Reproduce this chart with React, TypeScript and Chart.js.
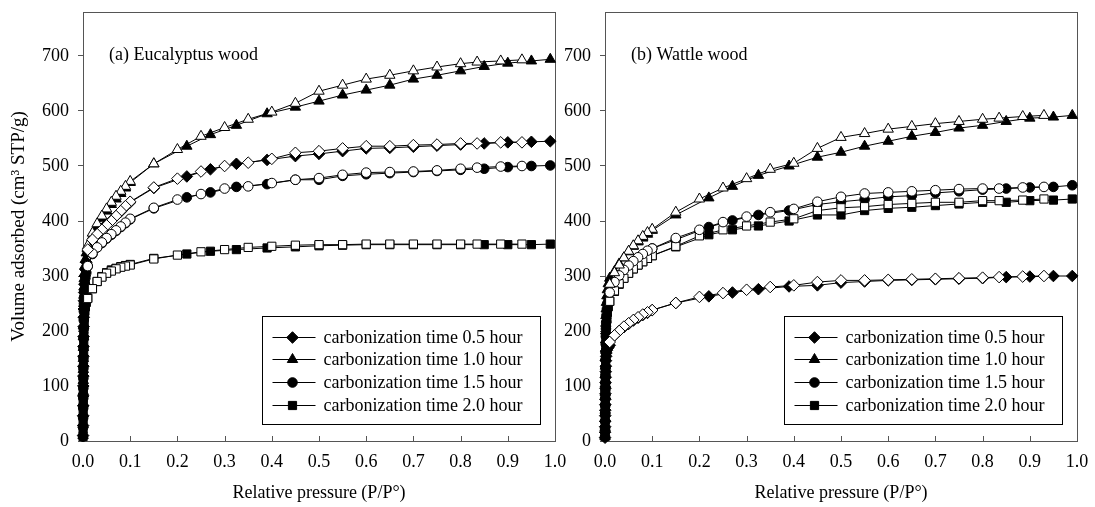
import React, { useEffect, useRef } from 'react';
import { Chart, registerables } from 'chart.js';

Chart.register(...registerables);

const FONT = "'Liberation Serif', 'Times New Roman', serif";

// Relative pressure grids (P/P°)
const bandP = [0.0001, 0.0002, 0.0003, 0.0004, 0.0005, 0.0006, 0.0007, 0.0008, 0.0009, 0.001, 0.0012, 0.0014, 0.0016, 0.0018, 0.002, 0.0025, 0.003, 0.004, 0.005, 0.007, 0.01];
const clusterP = [0.02, 0.03, 0.04, 0.05, 0.06, 0.07, 0.08, 0.09, 0.1];
const upperP = [0.15, 0.22, 0.27, 0.325, 0.39, 0.45, 0.5, 0.55, 0.6, 0.65, 0.7, 0.75, 0.8, 0.85, 0.9, 0.95, 0.99];
const adsP = [...bandP, ...clusterP, ...upperP];
const desP = [0.93, 0.885, 0.835, 0.8, 0.75, 0.7, 0.65, 0.6, 0.55, 0.5, 0.45, 0.4, 0.35, 0.3, 0.25, 0.2, 0.15, 0.1, 0.09, 0.08, 0.07, 0.06, 0.05, 0.04, 0.03, 0.02, 0.01];

const seriesLabels = [
  'carbonization time 0.5 hour',
  'carbonization time 1.0 hour',
  'carbonization time 1.5 hour',
  'carbonization time 2.0 hour',
];

// (a) Eucalyptus wood — volume adsorbed (cm³ STP/g)
const euAds05 = [10, 28, 46, 64, 82, 100, 118, 136, 154, 172, 190, 208, 225, 240, 255, 270, 285, 300, 312, 325, 345, 364, 376, 386, 394, 401, 409, 417, 426, 434, 460, 481, 494, 504, 511, 518, 522, 527, 532, 533, 535, 537, 539, 541, 543, 544, 545];
const euDes05 = [543, 543, 541, 541, 539, 538, 536, 536, 532, 527, 524, 513, 506, 500, 490, 477, 461, 435, 427, 418, 409, 400, 392, 384, 376, 366, 348];
const euAds10 = [10, 30, 50, 70, 90, 110, 130, 150, 170, 190, 210, 230, 250, 265, 280, 295, 305, 318, 330, 342, 352, 372, 390, 405, 418, 430, 440, 450, 460, 470, 504, 536, 557, 574, 595, 607, 618, 629, 638, 647, 658, 665, 673, 681, 687, 691, 694];
const euDes10 = [693, 691, 689, 686, 680, 673, 665, 658, 647, 636, 614, 598, 585, 570, 554, 530, 504, 472, 463, 454, 445, 434, 422, 409, 395, 378, 355];
const euAds15 = [8, 25, 42, 60, 78, 96, 114, 132, 150, 168, 186, 204, 220, 236, 250, 262, 274, 286, 296, 306, 318, 340, 352, 360, 368, 375, 382, 389, 396, 403, 423, 443, 452, 462, 467, 475, 475, 482, 485, 487, 489, 491, 493, 495, 498, 500, 501];
const euDes15 = [500, 499, 497, 495, 492, 490, 489, 488, 484, 478, 475, 469, 463, 459, 449, 439, 424, 404, 397, 390, 383, 376, 369, 361, 352, 341, 318];
const euAds20 = [8, 22, 36, 50, 64, 78, 92, 106, 120, 134, 148, 162, 176, 190, 203, 215, 226, 236, 244, 252, 260, 277, 290, 299, 306, 311, 314, 317, 319, 321, 332, 340, 345, 348, 351, 353, 355, 356, 357, 357, 357, 357, 357, 357, 357, 357, 358];
const euDes20 = [358, 358, 358, 358, 358, 358, 358, 358, 357, 357, 356, 354, 352, 348, 344, 338, 331, 320, 318, 316, 313, 309, 305, 298, 290, 277, 259];

// (b) Wattle wood — volume adsorbed (cm³ STP/g)
const waAds05 = [6, 16, 26, 36, 46, 56, 66, 76, 86, 96, 106, 116, 126, 136, 146, 154, 160, 165, 168, 170, 174, 192, 200, 207, 213, 219, 224, 229, 233, 238, 251, 263, 270, 276, 281, 283, 288, 290, 292, 293, 294, 295, 296, 298, 299, 300, 300];
const waDes05 = [300, 299, 298, 297, 296, 295, 294, 293, 292, 292, 289, 283, 280, 275, 269, 262, 251, 238, 234, 230, 225, 220, 214, 208, 200, 192, 180];
const waAds10 = [8, 24, 40, 56, 72, 88, 104, 120, 136, 152, 168, 184, 200, 214, 228, 240, 252, 264, 275, 286, 296, 308, 322, 333, 344, 354, 362, 369, 376, 383, 411, 442, 463, 483, 500, 516, 525, 536, 545, 554, 561, 569, 574, 581, 587, 589, 592];
const waDes10 = [592, 590, 587, 585, 581, 577, 572, 567, 559, 552, 532, 505, 494, 477, 460, 440, 416, 385, 379, 372, 364, 355, 345, 333, 320, 306, 285];
const waAds15 = [8, 22, 36, 50, 64, 78, 92, 106, 120, 134, 148, 162, 176, 190, 204, 216, 228, 240, 250, 260, 270, 287, 300, 310, 318, 326, 333, 339, 345, 350, 366, 389, 401, 411, 419, 430, 435, 439, 444, 446, 451, 454, 457, 459, 461, 462, 465];
const waDes15 = [462, 461, 459, 459, 458, 456, 454, 452, 450, 444, 435, 422, 416, 408, 398, 384, 369, 350, 346, 340, 334, 327, 319, 311, 301, 289, 270];
const waAds20 = [8, 20, 32, 44, 56, 68, 80, 92, 104, 116, 128, 142, 156, 170, 184, 198, 210, 222, 234, 244, 254, 272, 285, 296, 305, 313, 320, 326, 332, 337, 353, 375, 384, 391, 400, 411, 411, 419, 423, 425, 428, 431, 434, 434, 437, 438, 440];
const waDes20 = [440, 438, 437, 437, 434, 434, 432, 430, 426, 424, 419, 404, 398, 391, 384, 373, 354, 337, 332, 326, 320, 313, 305, 296, 286, 273, 254];

const yTickMax = 700;
const yAxisMax = 780;

const markerStyles = ['rectRot', 'triangle', 'circle', 'rect'];
const markerRadii = [5.8, 6, 4.8, 5.8];

function drawMarker(ctx: CanvasRenderingContext2D, style: string, x: number, y: number, r: number, fill: string) {
  ctx.beginPath();
  if (style === 'circle') {
    ctx.arc(x, y, r, 0, Math.PI * 2);
  } else if (style === 'triangle') {
    for (let k = 0; k < 3; k++) {
      const a = (k * 2 * Math.PI) / 3;
      const px = x + Math.sin(a) * r;
      const py = y - Math.cos(a) * r;
      if (k === 0) ctx.moveTo(px, py);
      else ctx.lineTo(px, py);
    }
  } else if (style === 'rectRot') {
    ctx.moveTo(x - r, y);
    ctx.lineTo(x, y - r);
    ctx.lineTo(x + r, y);
    ctx.lineTo(x, y + r);
  } else {
    const s = r * Math.SQRT1_2;
    ctx.rect(x - s, y - s, 2 * s, 2 * s);
  }
  ctx.closePath();
  ctx.fillStyle = fill;
  ctx.fill();
  ctx.lineWidth = 1;
  ctx.strokeStyle = '#000';
  ctx.stroke();
}

type PanelCfg = {
  title: string;
  ads: number[][];
  des: number[][];
  showYTitle: boolean;
  left: number;
  width: number;
  yWidth: number;
  padRight: number;
};

const panels: PanelCfg[] = [
  {
    title: '(a) Eucalyptus wood',
    ads: [euAds05, euAds10, euAds15, euAds20],
    des: [euDes05, euDes10, euDes15, euDes20],
    showYTitle: true,
    left: 0,
    width: 575,
    yWidth: 83,
    padRight: 20,
  },
  {
    title: '(b) Wattle wood',
    ads: [waAds05, waAds10, waAds15, waAds20],
    des: [waDes05, waDes10, waDes15, waDes20],
    showYTitle: false,
    left: 548,
    width: 547,
    yWidth: 57,
    padRight: 18,
  },
];

function IsothermPanel({ cfg }: { cfg: PanelCfg }) {
  const ref = useRef<HTMLCanvasElement>(null);

  useEffect(() => {
    if (!ref.current) return;
    const datasets: any[] = [];
    for (let i = 0; i < 4; i++) {
      const common = {
        showLine: true,
        borderColor: '#000',
        borderWidth: 1,
        pointStyle: markerStyles[i],
        pointRadius: markerRadii[i],
        pointHoverRadius: markerRadii[i],
        pointBorderColor: '#000',
        pointBorderWidth: 1,
        tension: 0,
        clip: 12,
      };
      datasets.push({
        ...common,
        label: seriesLabels[i],
        data: adsP.map((p, k) => ({ x: p, y: cfg.ads[i][k] })),
        pointBackgroundColor: '#000',
        backgroundColor: '#000',
        order: 1,
      });
      datasets.push({
        ...common,
        label: seriesLabels[i] + ' (desorption)',
        data: desP.map((p, k) => ({ x: p, y: cfg.des[i][k] })),
        pointBackgroundColor: '#fff',
        backgroundColor: '#fff',
        order: 0,
      });
    }

    const framePlugin = {
      id: 'frame',
      beforeDatasetsDraw(chart: any) {
        const { ctx, chartArea: a } = chart;
        const xs = chart.scales.x;
        ctx.save();
        ctx.strokeStyle = '#555';
        ctx.lineWidth = 1;
        ctx.strokeRect(Math.round(a.left) + 0.5, Math.round(a.top) + 0.5, Math.round(a.right - a.left), Math.round(a.bottom - a.top));
        // inward tick marks on the pressure axis
        for (let k = 1; k < 10; k++) {
          const px = Math.round(xs.getPixelForValue(k / 10)) + 0.5;
          ctx.beginPath();
          ctx.moveTo(px, a.bottom);
          ctx.lineTo(px, a.bottom - 5);
          ctx.stroke();
        }
        ctx.restore();
      },
    };

    const legendPlugin = {
      id: 'panelLegend',
      afterDatasetsDraw(chart: any) {
        const { ctx, chartArea: a } = chart;
        ctx.save();
        // panel caption
        ctx.font = `18px ${FONT}`;
        ctx.fillStyle = '#000';
        ctx.textBaseline = 'middle';
        ctx.textAlign = 'left';
        ctx.fillText(cfg.title, a.left + 26, a.top + 43);

        // legend box
        const bw = 278;
        const bh = 108;
        const bx = Math.round(a.right - 15 - bw) + 0.5;
        const by = Math.round(a.bottom - 17 - bh) + 0.5;
        ctx.fillStyle = '#fff';
        ctx.fillRect(bx, by, bw, bh);
        ctx.strokeStyle = '#000';
        ctx.lineWidth = 1;
        ctx.strokeRect(bx, by, bw, bh);
        for (let i = 0; i < 4; i++) {
          const y = Math.round(by + 20 + i * 22.7) + 0.5;
          ctx.beginPath();
          ctx.moveTo(bx + 10, y);
          ctx.lineTo(bx + 53, y);
          ctx.strokeStyle = '#000';
          ctx.stroke();
          drawMarker(ctx, markerStyles[i], bx + 30, y, markerRadii[i], '#000');
          ctx.fillStyle = '#000';
          ctx.font = `18px ${FONT}`;
          ctx.fillText(seriesLabels[i], bx + 61, y + 1);
        }
        ctx.restore();
      },
    };

    const chart = new Chart(ref.current, {
      type: 'scatter',
      data: { datasets },
      options: {
        responsive: false,
        animation: false,
        devicePixelRatio: 1,
        layout: { padding: { top: 12, right: cfg.padRight, left: 0, bottom: 0 } },
        plugins: {
          legend: { display: false },
          tooltip: { enabled: false },
        },
        scales: {
          x: {
            type: 'linear',
            min: 0,
            max: 1,
            grid: { display: false, drawTicks: false },
            border: { display: false },
            ticks: {
              stepSize: 0.1,
              autoSkip: false,
              maxRotation: 0,
              padding: 10,
              color: '#000',
              font: { family: FONT, size: 18 },
              callback: (v: any) => Number(v).toFixed(1),
            },
            title: {
              display: true,
              text: 'Relative pressure (P/P°)',
              color: '#000',
              font: { family: FONT, size: 18 },
              padding: { top: 0, bottom: 3 },
            },
            afterFit: (s: any) => {
              s.height = 66;
              s.paddingLeft = 0;
              s.paddingRight = 0;
            },
          },
          y: {
            type: 'linear',
            min: 0,
            max: yAxisMax,
            grid: { display: true, drawOnChartArea: false, drawTicks: true, tickLength: 5, color: '#555' },
            border: { display: false },
            ticks: {
              stepSize: 100,
              includeBounds: false,
              padding: 9,
              color: '#000',
              font: { family: FONT, size: 18 },
              callback: (v: any) => (Number(v) <= yTickMax ? String(v) : ''),
            },
            title: {
              display: cfg.showYTitle,
              text: 'Volume adsorbed (cm³ STP/g)',
              color: '#000',
              font: { family: FONT, size: 19 },
              padding: { top: 8, bottom: 0 },
            },
            afterFit: (s: any) => {
              s.width = cfg.yWidth;
              s.paddingTop = 0;
              s.paddingBottom = 0;
            },
          },
        },
      } as any,
      plugins: [framePlugin, legendPlugin],
    });
    return () => chart.destroy();
  }, [cfg]);

  return (
    <canvas
      ref={ref}
      width={cfg.width}
      height={507}
      style={{ position: 'absolute', left: cfg.left, top: 0, width: cfg.width, height: 507 }}
    />
  );
}

export default function App() {
  return (
    <div style={{ position: 'absolute', left: 0, top: 0, width: 1095, height: 507, background: '#fff' }}>
      {panels.map((p) => (
        <IsothermPanel key={p.title} cfg={p} />
      ))}
    </div>
  );
}
